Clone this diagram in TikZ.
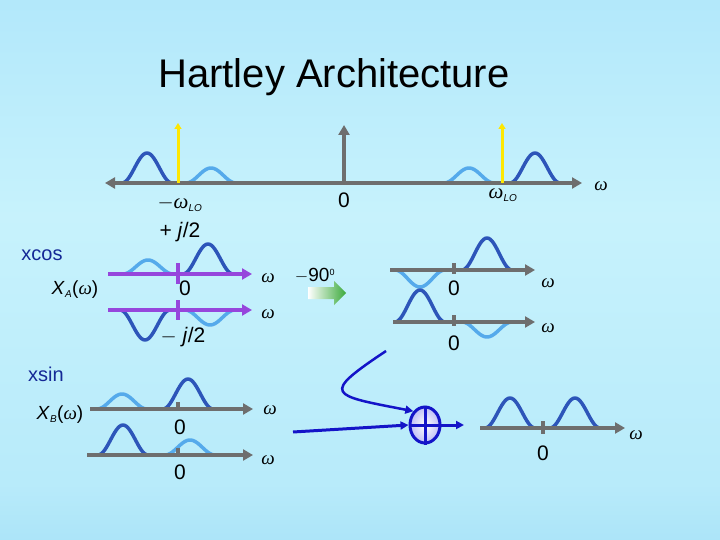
\documentclass[tikz,border=0pt]{standalone}
\usepackage{fontspec}
\setmainfont{Liberation Sans}
\newfontfamily\serifit{Liberation Serif}
\usetikzlibrary{arrows.meta,shapes.geometric}
\definecolor{dk}{RGB}{45,85,185}
\definecolor{lt}{RGB}{85,170,235}
\definecolor{ax}{RGB}{110,110,110}
\definecolor{pu}{RGB}{150,70,220}
\definecolor{bl}{RGB}{20,20,200}
\definecolor{tx}{RGB}{20,40,150}
\pgfdeclareverticalshading{bgshade}{100bp}{rgb(0bp)=(0.45,0.78,0.95); rgb(30bp)=(0.72,0.92,0.98); rgb(55bp)=(0.78,0.95,0.99); rgb(80bp)=(0.68,0.9,0.98); rgb(100bp)=(0.5,0.8,0.95)}
\newcommand\bump[5]{\draw[#5,line width=3.5pt,line join=round] plot[domain=-1:1,samples=31,smooth] ({#1+#3*\x},{#2-#4*(0.5+0.5*cos(180*\x))});}
\newcommand\om{{\serifit\itshape ω}}
\newcommand\sbs[1]{\textsubscript{\fontsize{10}{10}\selectfont\itshape #1}}
\begin{document}
\begin{tikzpicture}[x=1pt,y=-1pt,
  axis/.style={ax,line width=4pt,-{Triangle[length=10pt,width=11pt]}},
  paxis/.style={pu,line width=4pt,-{Triangle[length=10pt,width=11pt]}},
  lbl/.style={font=\fontsize{21}{21}\selectfont,inner sep=0pt},
  om/.style={font=\fontsize{19}{19}\selectfont,inner sep=0pt}]
\shade[shading=bgshade,shading angle=0] (0,0) rectangle (720,540);
\useasboundingbox (0,0) rectangle (720,540);
\node[font=\fontsize{40}{40}\selectfont] (title) at (334,77) {Hartley Architecture};
% top spectrum
\coordinate (tl) at (105,183); \coordinate (tr) at (582,183);
\bump{147}{183}{25}{30}{dk}\bump{211}{183}{25}{15}{lt}
\bump{469}{183}{25}{15}{lt}\bump{535}{183}{25}{30}{dk}
\draw[ax,line width=4pt,{Triangle[length=10pt,width=11pt]}-{Triangle[length=10pt,width=11pt]}] (tl) -- (tr);
\coordinate (c0) at (344,183); \coordinate (c1) at (344,125);
\draw[axis] (c0) -- (c1);
\coordinate (y1) at (178,183); \coordinate (y2) at (178,123);
\coordinate (y3) at (502,183); \coordinate (y4) at (502,123);
\draw[yellow!90!orange,line width=3pt,-{Triangle[length=6pt,width=7pt]}] (y1) -- (y2);
\draw[yellow!90!orange,line width=3pt,-{Triangle[length=6pt,width=7pt]}] (y3) -- (y4);
\node[lbl] (mlo) at (180,204) {$-$\om\sbs{LO}};
\node[lbl] (z0) at (344,200) {0};
\node[lbl] (plo) at (503,195) {\om\sbs{LO}};
\node[om] (w0) at (601,186) {\om};
% xcos
\node[font=\fontsize{20}{20}\selectfont,text=tx] (xcos) at (42,255) {xcos};
\node[font=\fontsize{20}{20}\selectfont,text=tx] (xsin) at (46,374) {xsin};
\node[lbl] (pj) at (180,232) {+ \textit{j}/2};
\node[lbl,font=\fontsize{19}{19}\selectfont] (xa) at (75,290) {\textit{X}\sbs{A}(\om)};
\bump{148}{274}{25}{14}{lt}\bump{208}{274}{25}{30}{dk}
\coordinate (a1) at (108,274); \coordinate (a2) at (252,274);
\draw[paxis] (a1) -- (a2);
\bump{145}{310}{25}{-30}{dk}\bump{210}{310}{25}{-15}{lt}
\coordinate (b1) at (108,310); \coordinate (b2) at (252,310);
\draw[paxis] (b1) -- (b2);
\draw[pu,line width=4pt] (178,263) -- (178,284) (178,300) -- (178,320);
\node[lbl] (za) at (185,288) {0};
\node[lbl] (mj) at (183,337) {$-$ \textit{j}/2};
\node[om] (wa) at (268,278) {\om};
\node[om] (wb) at (268,314) {\om};
% -90 arrow
\node[lbl,font=\fontsize{19}{19}\selectfont] (deg) at (315,276) {$-$90\textsuperscript{\fontsize{9}{9}\selectfont 0}};
\shade[left color=white,right color={rgb,255:red,60;green,170;blue,60}] (308,287) -- (334,287) -- (334,281) -- (346,293) -- (334,305) -- (334,299) -- (308,299) -- cycle;
% right middle
\bump{487}{270}{25}{32}{dk}\bump{420}{270}{25}{-17}{lt}
\coordinate (r1) at (390,270); \coordinate (r2) at (535,270);
\draw[axis] (r1) -- (r2); \draw[ax,line width=4pt] (454,263) -- (454,274);
\node[lbl] (zr1) at (454,288) {0};
\node[om] (wr1) at (548,283) {\om};
\bump{420}{322}{25}{32}{dk}\bump{487}{322}{25}{-15}{lt}
\coordinate (s1) at (393,322); \coordinate (s2) at (535,322);
\draw[axis] (s1) -- (s2); \draw[ax,line width=4pt] (454,315) -- (454,326);
\node[lbl] (zr2) at (454,343) {0};
\node[om] (wr2) at (548,328) {\om};
% bottom left
\node[lbl,font=\fontsize{19}{19}\selectfont] (xb) at (60,415) {\textit{X}\sbs{B}(\om)};
\bump{122}{409}{25}{15}{lt}\bump{188}{409}{25}{30}{dk}
\coordinate (p1) at (90,409); \coordinate (p2) at (253,409);
\draw[axis] (p1) -- (p2); \draw[ax,line width=4pt] (178,402) -- (178,411);
\node[lbl] (zb1) at (180,427) {0};
\node[om] (wb1) at (270,410) {\om};
\bump{123}{455}{25}{30}{dk}\bump{190}{455}{25}{15}{lt}
\coordinate (q1) at (87,455); \coordinate (q2) at (253,455);
\draw[axis] (q1) -- (q2); \draw[ax,line width=4pt] (178,448) -- (178,457);
\node[lbl] (zb2) at (180,472) {0};
\node[om] (wb2) at (268,460) {\om};
% adder
\node[draw=bl,line width=3pt,ellipse,inner color=white,outer color={rgb,255:red,190;green,190;blue,245},minimum width=30pt,minimum height=36pt,inner sep=0pt] (add) at (425,425) {};
\draw[bl,line width=3pt] (add.north) -- (add.south) (add.west) -- (add.east);
\coordinate (in1) at (293,432);
\draw[bl,line width=3pt,-{Triangle[length=8pt,width=8pt]}] (in1) -- (add.west);
\coordinate (in2) at (386,351);
\draw[bl,line width=2.5pt,-{Triangle[length=8pt,width=8pt]}] (in2) .. controls (320,395) and (330,395) .. (add.north west);
\coordinate (out) at (464,425);
\draw[bl,line width=3pt,-{Triangle[length=8pt,width=8pt]}] (add.east) -- (out);
% result
\bump{510}{428}{25}{30}{dk}\bump{575}{428}{25}{30}{dk}
\coordinate (o1) at (480,428); \coordinate (o2) at (625,428);
\draw[axis] (o1) -- (o2); \draw[ax,line width=4pt] (543,421) -- (543,434);
\node[lbl] (zo) at (543,453) {0};
\node[om] (wo) at (636,435) {\om};
\end{tikzpicture}
\end{document}
